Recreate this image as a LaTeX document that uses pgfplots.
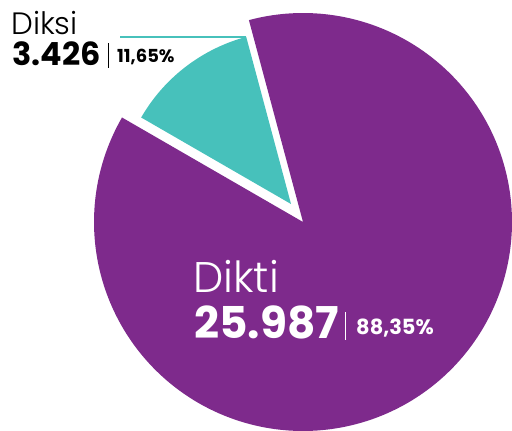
\documentclass[border=0pt]{standalone}
\usepackage{pgfplots}
\pgfplotsset{compat=1.18}
\usepackage{fontspec}
\setmainfont{Poppins}
\IfFontExistsTF{Poppins Light}{\newfontfamily\light{Poppins Light}}{\newfontfamily\light{Poppins}}
\definecolor{purp}{HTML}{7E2A8C}
\definecolor{tealc}{HTML}{47C1BB}

\begin{document}
\begin{tikzpicture}
\begin{axis}[
  width=512bp, height=431bp,
  scale only axis,
  xmin=0, xmax=512, ymin=0, ymax=431,
  hide axis,
  clip=false
]
% keep the page the size of the axis
\path (rel axis cs:0,0) rectangle (rel axis cs:1,1);
% Dikti 25.987 (88,35%) - big slice, centre (303,209), r=209
\addplot[fill=purp, draw=none, domain=150:465, samples=240]
  ({303+209*cos(x)},{209+209*sin(x)}) -- (axis cs:303,209) -- cycle;
% Diksi 3.426 (11,65%) - pulled out, apex (291,227), r=173
\addplot[fill=tealc, draw=none, domain=105:150, samples=60]
  ({291+173*cos(x)},{227+173*sin(x)}) -- (axis cs:291,227) -- cycle;
% leader line and separators
\addplot[tealc, line width=2bp] coordinates {(120,393.5) (246,393.5)};
\addplot[black, line width=0.8bp] coordinates {(108,363) (108,388)};
\addplot[white, line width=1bp] coordinates {(345,91) (345,119)};

\node[anchor=base west, inner sep=0pt, font=\light\fontsize{31}{31}\selectfont] at (axis cs:11,396) {Diksi};
\node[anchor=base west, inner sep=0pt, font=\bfseries\fontsize{32}{32}\selectfont] at (axis cs:12,365) {3.426};
\node[anchor=base west, inner sep=0pt, font=\bfseries\fontsize{18}{18}\selectfont] at (axis cs:117,368) {11,65\%};

\node[anchor=base west, inner sep=0pt, text=white, font=\light\fontsize{43}{43}\selectfont] at (axis cs:193,138) {Dikti};
\node[anchor=base west, inner sep=0pt, text=white, font=\bfseries\fontsize{44}{44}\selectfont] at (axis cs:194,92) {25.987};
\node[anchor=base west, inner sep=0pt, text=white, font=\bfseries\fontsize{21}{21}\selectfont] at (axis cs:356,96) {88,35\%};
\end{axis}
\end{tikzpicture}
\end{document}
